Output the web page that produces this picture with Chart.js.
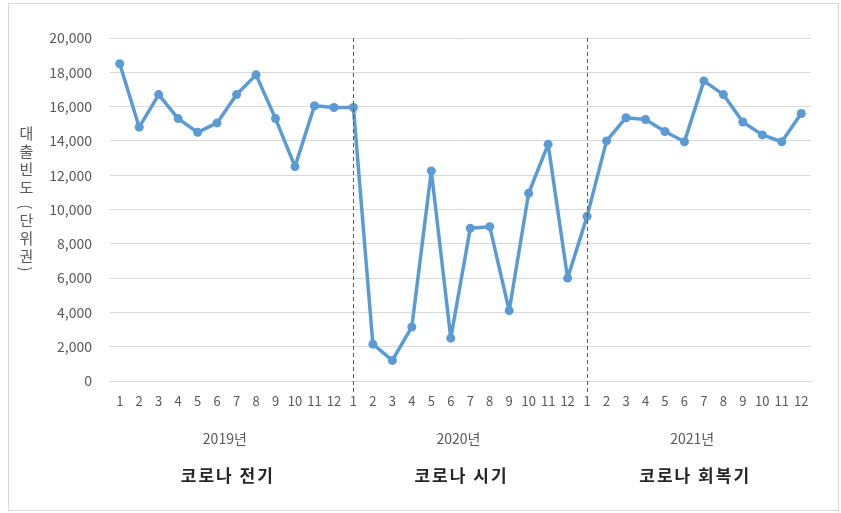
<!DOCTYPE html>
<html>
<head>
<meta charset="utf-8">
<script src="https://cdn.jsdelivr.net/npm/chart.js@4/dist/chart.umd.min.js"></script>
<style>
    body { margin: 0; background: #fff; }
    #wrap { position: relative; width: 841px; height: 513px; }
    #frame { position: absolute; left: 8px; top: 3px; width: 829px; height: 506px; border: 1px solid #d9d9d9; pointer-events: none; }
    #ytitle {
        position: absolute; left: 15px; top: 126px;
        writing-mode: vertical-rl; text-orientation: mixed;
        font-family: "Noto Sans CJK KR", sans-serif; font-size: 15px; color: #595959;
        letter-spacing: 3px; line-height: 22px;
    }
</style>
</head>
<body>
<div id="wrap">
    <canvas id="loan-chart"></canvas>
    <div id="frame"></div>
    <div id="ytitle">대출빈도 (단위권)</div>
</div>
<script>
// Chart data
const months = ['1', '2', '3', '4', '5', '6', '7', '8', '9', '10', '11', '12'];
const years = ['2019년', '2020년', '2021년'];
const phases = ['코로나 전기', '코로나 시기', '코로나 회복기'];
const loans2019 = [18500, 14800, 16700, 15300, 14500, 15050, 16700, 17850, 15300, 12500, 16050, 15950];
const loans2020 = [15950, 2150, 1200, 3150, 12250, 2500, 8900, 9000, 4100, 10950, 13800, 6000];
const loans2021 = [9600, 14000, 15350, 15250, 14550, 13950, 17500, 16700, 15100, 14350, 13950, 15600];
const yTicks = [0, 2000, 4000, 6000, 8000, 10000, 12000, 14000, 16000, 18000, 20000];

const labels = [...months, ...months, ...months];
const values = [...loans2019, ...loans2020, ...loans2021];

const FONT = '"Noto Sans CJK KR", "Noto Sans", sans-serif';

// Dashed separators between years + year / phase labels under the axis
const groupPlugin = {
    id: 'groups',
    afterDraw(chart) {
        const ctx = chart.ctx;
        const x = chart.scales.x;
        const area = chart.chartArea;
        ctx.save();
        ctx.strokeStyle = '#595959';
        ctx.lineWidth = 1;
        ctx.setLineDash([4, 3]);
        for (let g = 1; g < years.length; g++) {
            const px = Math.round(x.getPixelForValue(g * months.length)) + 0.5;
            ctx.beginPath();
            ctx.moveTo(px, area.top);
            ctx.lineTo(px, area.bottom + 14);
            ctx.stroke();
        }
        ctx.setLineDash([]);
        ctx.textAlign = 'center';
        ctx.textBaseline = 'middle';
        years.forEach((year, g) => {
            const first = x.getPixelForValue(g * months.length);
            const last = x.getPixelForValue(g * months.length + months.length - 1);
            const cx = (first + last) / 2;
            ctx.font = '14px ' + FONT;
            ctx.fillStyle = '#595959';
            ctx.letterSpacing = '0px';
            ctx.fillText(year, cx - 2, 439);
            ctx.font = 'bold 17px ' + FONT;
            ctx.fillStyle = '#262626';
            ctx.letterSpacing = '2px';
            ctx.fillText(phases[g], cx + 1, 476);
        });
        ctx.restore();
    }
};

const ctx = document.getElementById('loan-chart').getContext('2d');
const loanChart = new Chart(ctx, {
    type: 'line',
    data: {
        labels: labels,
        datasets: [{
            data: values,
            borderColor: '#5b9bd5',
            backgroundColor: '#5b9bd5',
            borderWidth: 3.5,
            borderJoinStyle: 'round',
            borderCapStyle: 'round',
            pointRadius: 4.5,
            pointHoverRadius: 4.5,
            pointBackgroundColor: '#5b9bd5',
            pointBorderWidth: 0,
            tension: 0
        }]
    },
    options: {
        responsive: true,
        maintainAspectRatio: false,
        animation: false,
        layout: { padding: { top: 38, right: 30, left: 0, bottom: 0 } },
        plugins: {
            legend: { display: false },
            tooltip: { enabled: false }
        },
        scales: {
            x: {
                offset: true,
                grid: { display: false, drawTicks: false },
                border: { display: true, color: '#d9d9d9' },
                ticks: {
                    color: '#595959',
                    font: { family: FONT, size: 13 },
                    padding: 12,
                    autoSkip: false,
                    maxRotation: 0
                },
                afterFit(scale) { scale.height = 132; }
            },
            y: {
                min: 0,
                max: 20000,
                afterBuildTicks(scale) { scale.ticks = yTicks.map(v => ({ value: v })); },
                grid: { color: '#d9d9d9', drawTicks: false },
                border: { display: false },
                ticks: {
                    color: '#595959',
                    font: { family: FONT, size: 14 },
                    padding: 18,
                    callback: function (value) {
                        return value.toLocaleString('en-US');
                    }
                },
                afterFit(scale) { scale.width = 110; }
            }
        }
    },
    plugins: [groupPlugin]
});
</script>
</body>
</html>
